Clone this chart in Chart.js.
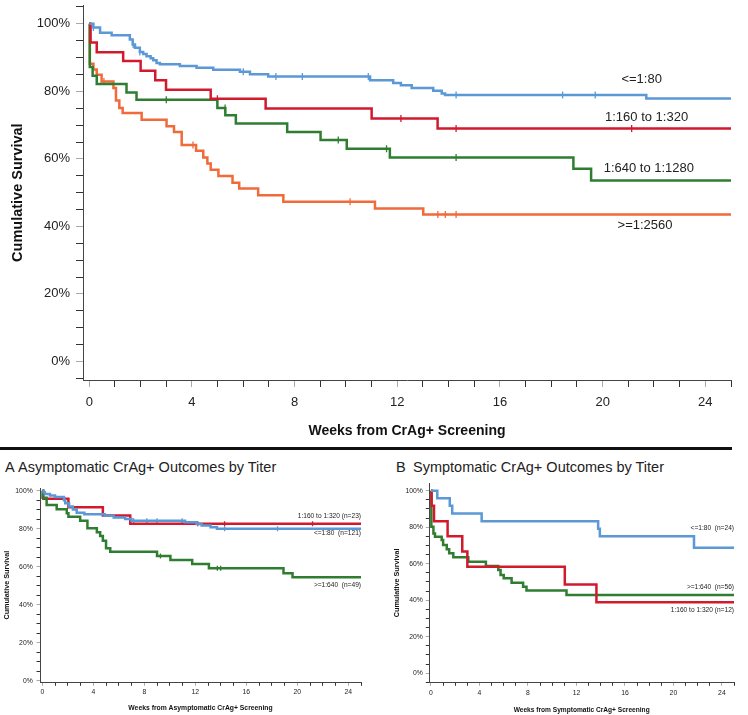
<!DOCTYPE html>
<html>
<head>
<meta charset="utf-8">
<script src="https://cdn.jsdelivr.net/npm/chart.js@4.4.1/dist/chart.umd.min.js"></script>
<style>
  body{margin:0;background:#fff;width:748px;height:715px;position:relative;overflow:hidden;font-family:"Liberation Sans",Arial,sans-serif}
  canvas{position:absolute}
  #mainChart{left:0;top:0}
  #asymChart{left:0;top:475px}
  #symChart{left:380px;top:475px}
  .rule{position:absolute;left:0;top:447px;width:732px;height:2.5px;background:#111}
  .ttl{position:absolute;top:459px;font-size:14.5px;line-height:17px;color:#222;white-space:nowrap}
  .ttl b{font-weight:normal;display:inline-block;width:13px}
</style>
</head>
<body>
<canvas id="mainChart" width="748" height="445"></canvas>
<div class="rule"></div>
<div class="ttl" style="left:5px"><b>A</b>Asymptomatic CrAg+ Outcomes by Titer</div>
<div class="ttl" style="left:396px"><b style="width:17px">B</b>Symptomatic CrAg+ Outcomes by Titer</div>
<canvas id="asymChart" width="380" height="240"></canvas>
<canvas id="symChart" width="368" height="240"></canvas>
<script>
// weeks / survival (%); censored times as separate lists
const weeksEnd = 25;
const xLabelWeeks = [0, 4, 8, 12, 16, 20, 24];
const yLabelPct = [0, 20, 40, 60, 80, 100];

// top panel: all CrAg+ by titer
const low_t = [0, 0.16, 0.42, 0.87, 1.58, 1.69, 1.78, 1.97, 2.1, 2.23, 2.39, 2.49, 2.62, 2.75, 3.53, 4.18, 4.83, 5.87, 6.26, 6.97, 10.94, 11.84, 12.14, 12.56, 13.4, 13.73, 13.86, 21.7];
const low_s = [100, 98.9, 97.4, 96.6, 95.4, 93.9, 92.9, 91.7, 91.1, 90.4, 89.8, 89.2, 88.4, 88.0, 87.5, 87.0, 86.4, 85.8, 85.1, 84.4, 83.3, 82.5, 81.8, 81.0, 80.2, 79.4, 78.9, 77.9];
const low_c = [0.16, 1.71, 1.97, 6.0, 7.27, 8.3, 10.87, 14.29, 18.44, 19.71];

const mid_t = [0, 0.05, 0.29, 1.32, 2.0, 2.57, 2.99, 4.73, 6.87, 11.0, 13.57];
const mid_s = [100, 94.5, 91.6, 89.0, 86.1, 83.3, 80.5, 77.8, 74.9, 72.0, 69.0];
const mid_c = [4.99, 12.14, 14.29, 21.13];

const high_t = [0, 0.02, 0.13, 0.29, 1.45, 1.84, 4.99, 5.3, 5.71, 7.71, 9.01, 10.03, 11.71, 18.86, 19.55];
const high_s = [100, 87.2, 84.6, 82.2, 79.7, 77.5, 75.1, 72.9, 70.5, 68.0, 65.6, 63.0, 60.4, 57.1, 53.6];
const high_c = [3.0, 5.29, 9.7, 11.58, 14.29];

const top_t = [0, 0.02, 0.16, 0.29, 0.48, 0.94, 1.04, 1.17, 1.3, 2.04, 3.01, 3.3, 3.6, 4.16, 4.44, 4.6, 4.73, 5.03, 5.58, 5.84, 6.58, 7.56, 11.13, 13.01];
const top_s = [100, 88.2, 86.5, 84.9, 82.9, 81.0, 77.3, 75.1, 73.6, 71.6, 69.7, 68.0, 64.1, 62.4, 60.4, 58.6, 56.8, 54.9, 52.9, 51.2, 49.2, 47.3, 45.3, 43.5];
const top_c = [0.57, 4.04, 10.16, 13.58, 13.87, 14.29];

const mainNames = ['<=1:80', '1:160 to 1:320', '1:640 to 1:1280', '>=1:2560'];

// panel A: asymptomatic
const aLow_t = [0, 0.1, 0.2, 0.6, 1.0, 1.7, 1.8, 2.1, 2.4, 2.7, 3.3, 4.9, 5.6, 6.5, 7.0, 11.2, 12.1, 12.5, 13.2, 13.7];
const aLow_s = [100, 99.2, 98.3, 97.5, 96.7, 95.0, 93.4, 91.7, 90.1, 88.4, 87.6, 86.8, 85.9, 85.1, 84.2, 83.4, 82.5, 81.7, 80.8, 80.0];
const aLow_c = [1.78, 7.17, 8.2, 9.0, 10.97, 14.3, 18.45];

const aMid_t = [0, 0.08, 2.05, 4.75, 6.9];
const aMid_s = [100, 95.7, 91.3, 87.0, 82.6];
const aMid_c = [12.2, 14.3, 21.2];

const aHigh_t = [0, 0.02, 0.34, 1.13, 1.92, 2.05, 2.97, 3.54, 4.28, 4.54, 4.75, 5.0, 5.33, 9.0, 10.05, 11.76, 13.07, 18.92, 19.63];
const aHigh_s = [100, 96.3, 92.5, 90.2, 88.1, 86.3, 84.2, 80.2, 78.1, 76.2, 73.7, 69.7, 67.9, 65.7, 63.6, 61.5, 59.2, 56.6, 54.5];
const aHigh_c = [9.27, 13.73, 13.99];

const aNames = ['<=1:80  (n=121)', '1:160 to 1:320 (n=23)', '>=1:640  (n=49)'];

// panel B: symptomatic
const bLow_t = [0, 0.52, 1.55, 1.75, 4.18, 13.79, 13.93, 21.7];
const bLow_s = [100, 95.8, 91.7, 87.5, 83.3, 79.2, 75.0, 68.8];

const bMid_t = [0, 0.05, 0.25, 1.37, 2.58, 3.0, 11.04, 13.65];
const bMid_s = [100, 91.7, 83.3, 75.0, 66.7, 58.3, 48.6, 38.9];

const bHigh_t = [0, 0.03, 0.2, 0.33, 0.88, 1.0, 1.3, 1.5, 1.84, 3.08, 4.53, 5.55, 5.74, 6.0, 6.65, 7.6, 7.88, 11.18];
const bHigh_s = [100, 80.3, 76.6, 74.8, 73.0, 70.3, 67.9, 65.7, 63.5, 61.1, 58.8, 56.6, 53.8, 52.0, 49.6, 47.4, 45.3, 42.9];

const bNames = ['<=1:80  (n=24)', '1:160 to 1:320 (n=12)', '>=1:640  (n=56)'];

const BLUE = '#5b98d6', RED = '#d11a2c', GREEN = '#2f7d31', ORANGE = '#f06a3a';
const FAM = "'Liberation Sans', Arial, sans-serif";

function steps(t, s){
  const pts = t.map((x, i) => ({x: x, y: s[i]}));
  pts.push({x: weeksEnd, y: s[s.length - 1]});
  return pts;
}
function survAt(t, s, w){
  let v = s[0];
  for (let i = 0; i < t.length; i++) if (t[i] <= w) v = s[i];
  return v;
}
// 'before' = hold previous value across, then drop at the event time
function lineSet(t, s, color, w){
  return {data: steps(t, s), borderColor: color, borderWidth: w, stepped: 'before', pointRadius: 0, fill: false};
}
function censSet(t, s, c, color, r){
  return {data: c.map(w => ({x: w, y: survAt(t, s, w)})), showLine: false, pointStyle: 'line', rotation: 90,
    pointRadius: r, pointBorderColor: color, borderColor: color, pointBorderWidth: 1.3};
}

const seriesLabels = {
  id: 'seriesLabels',
  afterDatasetsDraw(chart, args, opts){
    const ctx = chart.ctx, x = chart.scales.x, y = chart.scales.y;
    ctx.save();
    ctx.font = opts.font;
    ctx.fillStyle = '#222';
    ctx.textAlign = opts.align;
    ctx.textBaseline = 'middle';
    opts.items.forEach(it => ctx.fillText(it.text, x.getPixelForValue(it.x), y.getPixelForValue(it.y)));
    ctx.restore();
  }
};

function build(id, o){
  return new Chart(id, {
    type: 'line',
    data: {datasets: o.datasets},
    plugins: [seriesLabels],
    options: {
      responsive: false, animation: false, devicePixelRatio: 1,
      layout: {padding: {left: 0, right: o.padR, top: o.padT, bottom: 0}},
      plugins: {
        legend: {display: false}, tooltip: {enabled: false},
        seriesLabels: {font: o.labFont, align: o.labAlign, items: o.labels}
      },
      scales: {
        x: {
          type: 'linear', min: o.xmin, max: weeksEnd,
          afterFit(s){ s.height = o.xh; s.paddingLeft = 0; s.paddingRight = 0; },
          border: {color: '#444', width: 1},
          grid: {drawOnChartArea: false, tickLength: o.tl,
            tickColor: c => xLabelWeeks.includes(c.tick.value) ? '#aaa' : '#333'},
          ticks: {stepSize: 1, autoSkip: false, includeBounds: false, maxTicksLimit: 200, maxRotation: 0,
            padding: o.xpad, color: '#222', font: {family: FAM, size: o.tickSize},
            callback: v => xLabelWeeks.includes(v) ? String(v) : ''},
          title: {display: true, text: o.xtitle, color: '#111',
            font: {family: FAM, size: o.titleSize, weight: 'bold', lineHeight: 1.2},
            padding: {top: 0, bottom: o.xtp}}
        },
        y: {
          min: o.ymin, max: o.ymax,
          afterFit(s){ s.width = o.yw; s.paddingTop = 0; s.paddingBottom = 0; },
          border: {color: '#444', width: 1},
          grid: {drawOnChartArea: false, tickLength: o.tl,
            tickColor: c => yLabelPct.includes(c.tick.value) ? '#aaa' : '#333'},
          ticks: {stepSize: 5, autoSkip: false, includeBounds: false, maxTicksLimit: 200,
            padding: o.ypad, color: '#222', font: {family: FAM, size: o.tickSize},
            callback: v => yLabelPct.includes(v) ? v + '%' : ''},
          title: {display: true, text: 'Cumulative Survival', color: '#111',
            font: {family: FAM, size: o.ytitleSize, weight: 'bold', lineHeight: 1.2},
            padding: {top: o.ytp, bottom: 0}}
        }
      }
    }
  });
}

build('mainChart', {
  datasets: [
    lineSet(low_t, low_s, BLUE, 2.5), lineSet(mid_t, mid_s, RED, 2.5),
    lineSet(high_t, high_s, GREEN, 2.5), lineSet(top_t, top_s, ORANGE, 2.5),
    censSet(low_t, low_s, low_c, BLUE, 3.5), censSet(mid_t, mid_s, mid_c, RED, 3.5),
    censSet(high_t, high_s, high_c, GREEN, 3.5), censSet(top_t, top_s, top_c, ORANGE, 3.5)
  ],
  padR: 17, padT: 0, xh: 65, yw: 83, xmin: -0.245, ymin: -5.5, ymax: 105.5,
  tl: 7, xpad: 8, ypad: 6, tickSize: 13, titleSize: 14, ytitleSize: 14.5, xtp: 5.6, ytp: 9.3,
  xtitle: 'Weeks from CrAg+ Screening',
  labFont: '13px ' + FAM, labAlign: 'center',
  labels: [
    {text: mainNames[0], x: 21.52, y: 83.6}, {text: mainNames[1], x: 21.71, y: 72.2},
    {text: mainNames[2], x: 21.8, y: 57.3}, {text: mainNames[3], x: 21.65, y: 40.4}
  ]
});

build('asymChart', {
  datasets: [
    lineSet(aLow_t, aLow_s, BLUE, 2.5), lineSet(aHigh_t, aHigh_s, GREEN, 2.5), lineSet(aMid_t, aMid_s, RED, 2.5),
    censSet(aLow_t, aLow_s, aLow_c, BLUE, 2.5), censSet(aHigh_t, aHigh_s, aHigh_c, GREEN, 2.5),
    censSet(aMid_t, aMid_s, aMid_c, RED, 2.5)
  ],
  padR: 19, padT: 13, xh: 32.7, yw: 40, xmin: -0.18, ymin: -0.7, ymax: 101.4,
  tl: 3.5, xpad: 2.7, ypad: 3.8, tickSize: 6.8, titleSize: 6.8, ytitleSize: 7.2, xtp: 2.6, ytp: 2.9,
  xtitle: 'Weeks from Asymptomatic CrAg+ Screening',
  labFont: '6.6px ' + FAM, labAlign: 'right',
  labels: [
    {text: aNames[1], x: weeksEnd, y: 86.7}, {text: aNames[0], x: weeksEnd, y: 77.6},
    {text: aNames[2], x: weeksEnd, y: 50.4}
  ]
});

build('symChart', {
  datasets: [
    lineSet(bLow_t, bLow_s, BLUE, 2.5), lineSet(bMid_t, bMid_s, RED, 2.5), lineSet(bHigh_t, bHigh_s, GREEN, 2.5)
  ],
  padR: 14, padT: 8.4, xh: 32.7, yw: 49.3, xmin: -0.14, ymin: -5, ymax: 104,
  tl: 3.5, xpad: 3.3, ypad: 3, tickSize: 6.8, titleSize: 6.6, ytitleSize: 7.2, xtp: 0.9, ytp: 12.6,
  xtitle: 'Weeks from Symptomatic CrAg+ Screening',
  labFont: '6.6px ' + FAM, labAlign: 'right',
  labels: [
    {text: bNames[0], x: weeksEnd, y: 79.7}, {text: bNames[2], x: weeksEnd, y: 47.4},
    {text: bNames[1], x: weeksEnd, y: 34.7}
  ]
});
</script>
</body>
</html>
